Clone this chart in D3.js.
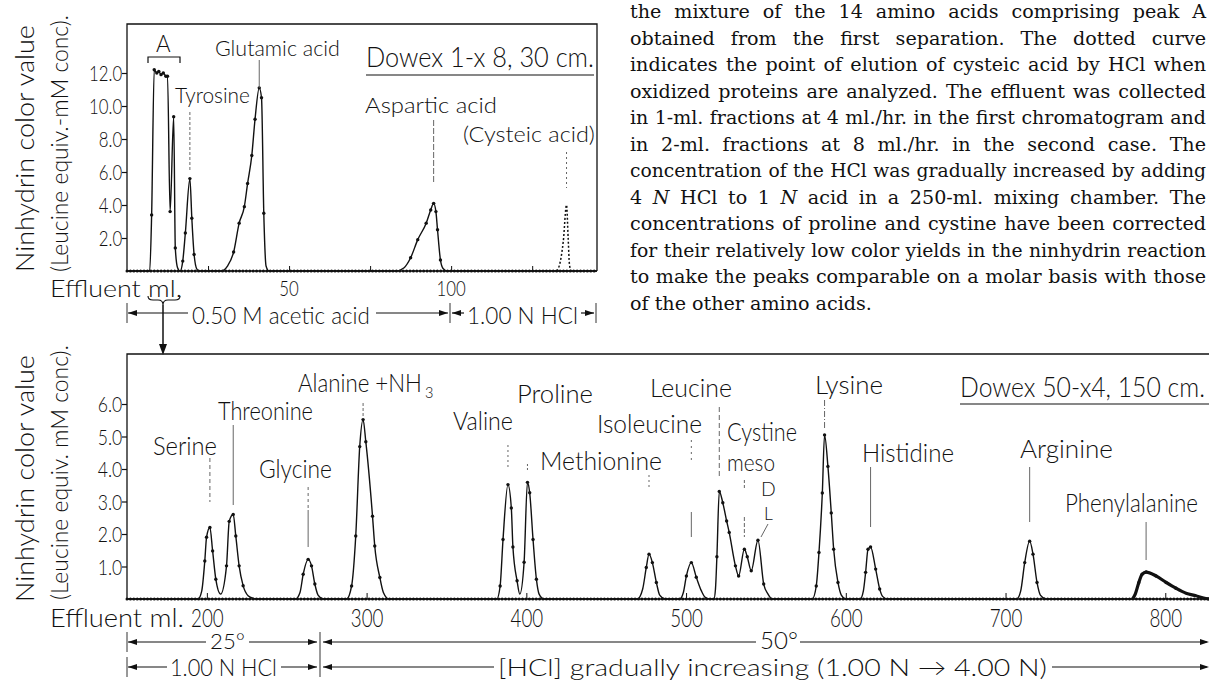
<!DOCTYPE html>
<html>
<head>
<meta charset="utf-8">
<script src="https://cdn.jsdelivr.net/npm/d3@7"></script>
<style>
body{margin:0;background:#fff}
svg{display:block}
.lt{font-family:Lato,"Open Sans","DejaVu Sans",sans-serif;font-weight:300;fill:#111}
.para{font-family:"DejaVu Serif",serif;fill:#111}
</style>
</head>
<body>
<div id="container"></div>
<script>
// ---- data ----
const topTicksY = [2, 4, 6, 8, 10, 12]
const topTicksX = [25, 50, 75, 100, 125]
const topTickLabelsX = [50, 100]
const bottomTicksY = [1, 2, 3, 4, 5, 6]
const bottomTicksX = [200, 300, 400, 500, 600, 700, 800]

// first chromatogram (Dowex 1), [effluent ml, colour value]
const firstRun = [
  [0,0],[7.0,0],[7.6,3.4],[8.4,12.2],[9.2,12.0],[9.8,12.1],[10.5,11.9],[11.2,12.0],[12.0,11.8],[12.5,11.8],
  [13.3,3.6],[14.4,9.35],[14.9,1.4],[15.6,0.2],[16.4,0],[17.2,0.6],[18,2.3],[19.4,5.6],[20,3.2],[20.7,1.0],[21.6,0.1],[22.5,0],
  [29,0],[31,0.3],[32.9,1.15],[34.6,2.9],[36.2,3.9],[37.2,5.3],[38.5,7.0],[39.5,9.2],[40.8,11.1],[41.5,10.5],[42.2,3.5],[42.9,0.3],[43.8,0],
  [83,0],[85.5,0.2],[87.5,0.8],[89.7,1.9],[92.3,2.9],[93.7,3.7],[94.6,4.1],[95.3,3.6],[95.8,2.5],[96.7,0.67],[97.5,0.15],[98.8,0],[145,0]
]
const cysteicRun = [[132.6,0],[133.6,0.5],[134.6,1.8],[135.6,4.0],[136.1,2.0],[136.5,0.4],[137,0]]

// second chromatogram (Dowex 50)
const secondRun = [
  [150,0],[194.5,0],[196.8,0.25],[198.7,1.17],[199.8,1.9],[201.9,2.2],[203.6,1.48],[205.6,0.61],[208.6,0.15],
  [212.3,1.02],[214,2.39],[216.5,2.6],[218.1,1.94],[220.2,1.02],[222.7,0.41],[225.8,0.1],[229,0.02],[232,0],
  [255.5,0],[258.3,0.2],[260.3,0.76],[263.4,1.22],[265.5,1.02],[267.6,0.46],[269.6,0.12],[273,0],
  [287.5,0],[290.6,0.4],[293.2,1.94],[295.7,4.69],[297.8,5.52],[299.5,4.84],[303.7,2.55],[305.1,1.63],[308.3,0.66],[310.5,0.2],[314,0],
  [381.5,0],[383.6,0.4],[385.4,1.83],[388.5,3.52],[390.6,2.8],[391.6,1.6],[394.2,0.56],[395.9,0.15],
  [398.6,1.13],[400.7,3.59],[402.1,3.27],[404.2,1.83],[406.3,0.61],[408,0.15],[411,0],
  [469.5,0],[472.8,0.3],[475.1,0.97],[476.8,1.38],[478.9,1.12],[481.4,0.51],[483.5,0.12],[487,0],
  [496,0],[498.3,0.2],[500.2,0.71],[503.3,1.12],[506.4,0.67],[509.6,0.25],[512,0.05],[515,0],
  [517.4,0],[518.4,0.3],[519.3,1.3],[520.8,3.31],[523,2.96],[525.4,2.4],[527,2.05],[530.9,1.02],[532.9,0.71],
  [536.5,1.53],[538.3,1.3],[540.8,0.87],[545,1.81],[548.6,0.46],[551.3,0.15],[554,0],
  [579,0],[581.5,0.4],[583.2,1.43],[585.3,3.26],[586.7,5.05],[588.8,4.08],[590.9,2.65],[592.4,1.53],[595.1,0.51],[597.2,0.12],[600,0],
  [609,0],[611,0.25],[612.4,0.82],[613.9,1.53],[615.5,1.6],[618.7,0.92],[621.2,0.31],[623,0.08],[626,0],
  [707,0],[709.5,0.25],[712,1.12],[715.1,1.78],[717.2,1.38],[719.7,0.51],[721.8,0.12],[725.5,0],[780.7,0]
]
const pheRun = [[779.5,0],[781.2,0.15],[783.4,0.5],[785.5,0.76],[788,0.83],[794.2,0.71],[800.5,0.51],[806.7,0.33],[813,0.18],[819.2,0.1],[824,0.03],[828,0]]

const topPeaks = [
  {name: "Tyrosine", ml: 19.4},
  {name: "Glutamic acid", ml: 40.8},
  {name: "Aspartic acid", ml: 94.6},
  {name: "(Cysteic acid)", ml: 135.6}
]
const bottomPeaks = [
  {name: "Serine", ml: 201.9},
  {name: "Threonine", ml: 216.5},
  {name: "Glycine", ml: 263.4},
  {name: "Alanine +NH", ml: 297.8},
  {name: "Valine", ml: 388.5},
  {name: "Proline", ml: 400.7},
  {name: "Methionine", ml: 476.8},
  {name: "Isoleucine", ml: 503.3},
  {name: "Leucine", ml: 520.8},
  {name: "Cystine", ml: 536.5},
  {name: "Lysine", ml: 586.7},
  {name: "Histidine", ml: 615.5},
  {name: "Arginine", ml: 715.1},
  {name: "Phenylalanine", ml: 788}
]

const paragraph = [
  "the mixture of the 14 amino acids comprising peak A",
  "obtained from the first separation. The dotted curve",
  "indicates the point of elution of cysteic acid by HCl when",
  "oxidized proteins are analyzed. The effluent was collected",
  "in 1-ml. fractions at 4 ml./hr. in the first chromatogram and",
  "in 2-ml. fractions at 8 ml./hr. in the second case. The",
  "concentration of the HCl was gradually increased by adding",
  "4 *N* HCl to 1 *N* acid in a 250-ml. mixing chamber. The",
  "concentrations of proline and cystine have been corrected",
  "for their relatively low color yields in the ninhydrin reaction",
  "to make the peaks comparable on a molar basis with those",
  "of the other amino acids."
]

// ---- drawing ----
const width = 1209
const height = 683

const svg = d3.select("#container").append("svg")
  .attr("width", width)
  .attr("height", height)

// lettering helper: squeeze a label horizontally into a measured width
function label(g, s, x, y, w, size, anchor) {
  const t = g.append("text").attr("class", "lt")
    .attr("font-size", size)
    .text(s)
  if (anchor) t.attr("text-anchor", anchor)
  const k = w ? w / t.node().getComputedTextLength() : 0.97
  t.attr("transform", `translate(${x},${y}) scale(${k},1)`)
  return t
}
function squeeze(sel, k) {
  sel.attr("transform", `scale(${k},1)`)
}
function vlabel(g, s, x, y, w, size) {
  const t = g.append("text").attr("class", "lt")
    .attr("font-size", size)
    .text(s)
  const k = w / t.node().getComputedTextLength()
  t.attr("transform", `translate(${x},${y}) rotate(-90) scale(${k},1)`)
  return t
}
function leader(g, x, ya, yb, dash) {
  g.append("line")
    .attr("x1", x).attr("x2", x).attr("y1", ya).attr("y2", yb)
    .attr("stroke", "#555").attr("stroke-width", 0.9)
    .attr("stroke-dasharray", dash || null)
}
function head(g, x, y, dir) {
  // small filled arrow head, dir = 1 points right, -1 left
  g.append("path")
    .attr("d", `M${x},${y} L${x - dir * 9},${y - 3} L${x - dir * 9},${y + 3} Z`)
    .attr("fill", "#111")
}
function hline(g, xa, xb, y) {
  g.append("line").attr("x1", xa).attr("x2", xb).attr("y1", y).attr("y2", y)
    .attr("stroke", "#111").attr("stroke-width", 1.2)
}
function bar(g, x, ya, yb) {
  g.append("line").attr("x1", x).attr("x2", x).attr("y1", ya).attr("y2", yb)
    .attr("stroke", "#333").attr("stroke-width", 1)
}
function dottedBase(g, xa, xb, y) {
  g.append("line").attr("x1", xa).attr("x2", xb).attr("y1", y).attr("y2", y)
    .attr("stroke", "#111").attr("stroke-width", 1.3)
  g.append("line").attr("x1", xa).attr("x2", xb).attr("y1", y).attr("y2", y)
    .attr("stroke", "#111").attr("stroke-width", 3)
    .attr("stroke-linecap", "round").attr("stroke-dasharray", "0.01 3.4")
}

// ===== top chromatogram =====
const topG = svg.append("g")
const x1 = d3.scaleLinear().domain([0, 145]).range([127, 597])
const y1 = d3.scaleLinear().domain([0, 12]).range([271, 73])

topG.append("path")
  .attr("d", "M127,271 V24 H597 V271")
  .attr("fill", "none").attr("stroke", "#111").attr("stroke-width", 1.3)
dottedBase(topG, 127, 597, 271)

const yAxisTop = topG.append("g")
  .attr("transform", "translate(127,0)")
  .call(d3.axisLeft(y1).tickValues(topTicksY).tickFormat(d3.format(".1f")).tickSize(5).tickPadding(1).tickSizeOuter(0))
yAxisTop.select(".domain").remove()
yAxisTop.selectAll("line").attr("stroke", "#111").attr("stroke-width", 1.2)
yAxisTop.selectAll("text").attr("class", "lt").attr("font-size", 21).attr("font-family", null).attr("dy", "0.36em")
squeeze(yAxisTop.selectAll("text"), 0.8)

const xAxisTop = topG.append("g")
  .attr("transform", "translate(0,271)")
  .call(d3.axisBottom(x1).tickValues(topTicksX).tickSize(-5).tickFormat(""))
xAxisTop.select(".domain").remove()
xAxisTop.selectAll("line").attr("stroke", "#111").attr("stroke-width", 1)
topTickLabelsX.forEach(v => {
  const t = label(topG, String(v), x1(v), 296, null, 21, "middle")
  t.attr("transform", `translate(${x1(v)},296) scale(0.8,1)`)
})

const line1 = d3.line().x(d => x1(d[0])).y(d => y1(d[1])).curve(d3.curveMonotoneX)
topG.append("path").datum(firstRun)
  .attr("d", line1).attr("fill", "none").attr("stroke", "#111").attr("stroke-width", 1.4)
topG.selectAll(".pt").data(firstRun.filter(d => d[1] > 0.5)).enter().append("circle")
  .attr("cx", d => x1(d[0])).attr("cy", d => y1(d[1])).attr("r", 1.7).attr("fill", "#111")
topG.append("path").datum(cysteicRun)
  .attr("d", line1).attr("fill", "none").attr("stroke", "#111").attr("stroke-width", 1.5)
  .attr("stroke-dasharray", "2 2")

// labels on top chart
const topLayout = {
  "Tyrosine": {x: 175, y: 103, w: 75, s: 21, l: [112, 170, "3 2"]},
  "Glutamic acid": {x: 215, y: 56, w: 125, s: 22, l: [60, 88, null]},
  "Aspartic acid": {x: 365, y: 113, w: 132, s: 22, l: [120, 183, "6 2"]},
  "(Cysteic acid)": {x: 463, y: 142, w: 132, s: 22, l: [152, 188, "2 3"]}
}
topPeaks.forEach(p => {
  const L = topLayout[p.name]
  label(topG, p.name, L.x, L.y, L.w, L.s)
  leader(topG, x1(p.ml), L.l[0], L.l[1], L.l[2])
})
label(topG, "A", 156, 52, null, 23)
topG.append("path").attr("d", "M148,63 V57 H180 V63")
  .attr("fill", "none").attr("stroke", "#111").attr("stroke-width", 1.2)
label(topG, "Dowex 1-x 8, 30 cm.", 366, 67, 228, 27)
hline(topG, 366, 594, 75)
label(topG, "Effluent ml.", 50, 297, 132, 23)
vlabel(topG, "Ninhydrin color value", 34, 272, 247, 25)
vlabel(topG, "(Leucine equiv.-mM conc).", 68, 272, 257, 23)

// brace under "ml." and arrow down to second chart
topG.append("path")
  .attr("d", "M148,296 Q148,300 153,300 L158,300 Q163,300 163,305 Q163,300 168,300 L175,300 Q180,300 180,296")
  .attr("fill", "none").attr("stroke", "#111").attr("stroke-width", 1.1)
topG.append("line").attr("x1", 163).attr("x2", 163).attr("y1", 305).attr("y2", 348)
  .attr("stroke", "#111").attr("stroke-width", 1.5)
topG.append("path").attr("d", "M163,355 L159,344 L167,344 Z").attr("fill", "#111")

// eluent row under the top chart
bar(topG, 127, 303, 323)
head(topG, 128, 313, -1)
hline(topG, 128, 188, 313)
label(topG, "0.50 M acetic acid", 192, 324, 178, 24)
hline(topG, 376, 448, 313)
head(topG, 448, 313, 1)
bar(topG, 450, 303, 323)
head(topG, 452, 313, -1)
hline(topG, 452, 464, 313)
label(topG, "1.00 N HCl", 467, 324, 111, 24)
hline(topG, 581, 594, 313)
head(topG, 594, 313, 1)
bar(topG, 596, 303, 323)

// ===== bottom chromatogram =====
const botG = svg.append("g")
const x2 = d3.scaleLinear().domain([150, 828]).range([127, 1210])
const y2 = d3.scaleLinear().domain([0, 6]).range([599, 404])

botG.append("path")
  .attr("d", "M127,599 V354 H1209")
  .attr("fill", "none").attr("stroke", "#111").attr("stroke-width", 1.3)
dottedBase(botG, 127, 1209, 599)

const yAxisBot = botG.append("g")
  .attr("transform", "translate(127,0)")
  .call(d3.axisLeft(y2).tickValues(bottomTicksY).tickFormat(d3.format(".1f")).tickSize(5).tickPadding(1).tickSizeOuter(0))
yAxisBot.select(".domain").remove()
yAxisBot.selectAll("line").attr("stroke", "#111").attr("stroke-width", 1.2)
yAxisBot.selectAll("text").attr("class", "lt").attr("font-size", 22).attr("font-family", null).attr("dy", "0.36em")
squeeze(yAxisBot.selectAll("text"), 0.8)

const xAxisBot = botG.append("g")
  .attr("transform", "translate(0,599)")
  .call(d3.axisBottom(x2).tickValues(bottomTicksX).tickSize(-6).tickPadding(16).tickSizeOuter(0))
xAxisBot.select(".domain").remove()
xAxisBot.selectAll("line").attr("stroke", "#111").attr("stroke-width", 1)
xAxisBot.selectAll("text").attr("class", "lt").attr("font-size", 25).attr("font-family", null)
  .attr("y", 28).attr("dy", 0)
squeeze(xAxisBot.selectAll("text"), 0.75)

const line2 = d3.line().x(d => x2(d[0])).y(d => y2(d[1])).curve(d3.curveMonotoneX)
botG.append("path").datum(secondRun)
  .attr("d", line2).attr("fill", "none").attr("stroke", "#111").attr("stroke-width", 1.4)
botG.append("path").datum(pheRun)
  .attr("d", line2).attr("fill", "none").attr("stroke", "#111").attr("stroke-width", 3.2)
botG.selectAll(".pt").data(secondRun.concat(pheRun).filter(d => d[1] > 0.3)).enter().append("circle")
  .attr("cx", d => x2(d[0])).attr("cy", d => y2(d[1])).attr("r", 1.7).attr("fill", "#111")

const botLayout = {
  "Serine": {x: 153, y: 455, w: 64, l: [[458, 502, "4 3"]]},
  "Threonine": {x: 218, y: 420, w: 95, l: [[425, 505, null]]},
  "Glycine": {x: 259, y: 478, w: 73, l: [[487, 510, "3 3"], [510, 547, null]]},
  "Alanine +NH": {x: 298, y: 392, w: 124, l: [[403, 418, "3 2"]]},
  "Valine": {x: 453, y: 430, w: 60, l: [[445, 470, "2 3"]]},
  "Proline": {x: 517, y: 403, w: 76, l: [[464, 471, "2 2"]]},
  "Methionine": {x: 540, y: 470, w: 122, l: [[475, 487, "2 3"]]},
  "Isoleucine": {x: 597, y: 433, w: 105, l: [[440, 463, "2 4"], [512, 537, null]]},
  "Leucine": {x: 650, y: 397, w: 82, l: [[407, 477, "5 3"]]},
  "Cystine": {x: 727, y: 441, w: 70, l: [[480, 490, "3 2"], [517, 537, "4 2"]]},
  "Lysine": {x: 815, y: 394, w: 68, l: [[400, 428, "6 2 1 2"]]},
  "Histidine": {x: 862, y: 462, w: 92, l: [[467, 527, null]]},
  "Arginine": {x: 1020, y: 458, w: 93, l: [[467, 522, null]]},
  "Phenylalanine": {x: 1065, y: 512, w: 133, l: [[522, 560, null]]}
}
bottomPeaks.forEach(p => {
  const L = botLayout[p.name]
  label(botG, p.name, L.x, L.y, L.w, 26)
  L.l.forEach(s => leader(botG, x2(p.ml), s[0], s[1], s[2]))
})
label(botG, "3", 425, 398, null, 15)
label(botG, "meso", 727, 471, 48, 24)
label(botG, "D", 761, 496, null, 20)
label(botG, "L", 764, 520, null, 18)
botG.append("line").attr("x1", 768).attr("y1", 524).attr("x2", 761).attr("y2", 537)
  .attr("stroke", "#555").attr("stroke-width", 0.9)
label(botG, "Dowex 50-x4, 150 cm.", 960, 397, 245, 28)
hline(botG, 960, 1209, 404)

label(botG, "Effluent ml.", 50, 627, 134, 26)
vlabel(botG, "Ninhydrin color value", 34, 602, 247, 25)
vlabel(botG, "(Leucine equiv. mM conc).", 68, 600, 255, 23)

// temperature row
bar(botG, 127, 632, 652)
head(botG, 128, 642, -1)
hline(botG, 128, 206, 642)
label(botG, "25°", 210, 649, 35, 22)
hline(botG, 249, 317, 642)
head(botG, 317, 642, 1)
bar(botG, 320, 632, 677)
head(botG, 323, 642, -1)
hline(botG, 323, 756, 642)
label(botG, "50°", 760, 649, 38, 23)
hline(botG, 800, 1207, 642)
head(botG, 1209, 642, 1)

// acid row
bar(botG, 127, 657, 677)
head(botG, 128, 667, -1)
hline(botG, 128, 167, 667)
label(botG, "1.00 N HCl", 170, 676, 107, 23)
hline(botG, 281, 317, 667)
head(botG, 317, 667, 1)
head(botG, 323, 667, -1)
hline(botG, 323, 494, 667)
label(botG, "[HCl] gradually increasing (1.00 N \u2192 4.00 N)", 498, 676, 549, 24)
hline(botG, 1052, 1207, 667)
head(botG, 1209, 667, 1)

// ===== caption paragraph =====
const para = svg.append("g").attr("class", "para")
const probe = para.append("text").attr("font-size", 15).text(paragraph[paragraph.length - 1])
const fs = 15 * 242 / probe.node().getComputedTextLength()
probe.remove()
const target = 576
paragraph.forEach((line, i) => {
  const t = para.append("text").attr("x", 630).attr("y", 18 + i * 26.5).attr("font-size", fs)
  line.split("*").forEach((part, j) => {
    t.append("tspan").attr("font-style", j % 2 ? "italic" : null).text(part)
  })
  if (i < paragraph.length - 1) {
    let natural = t.node().getComputedTextLength()
    if (natural > target - 4) {
      // long line: drop the size a touch so it fits the column
      t.attr("font-size", fs * (target - 4) / natural)
      natural = t.node().getComputedTextLength()
    }
    const gaps = line.split(" ").length - 1
    t.attr("word-spacing", (target - natural) / gaps)
  }
})
</script>
</body>
</html>
